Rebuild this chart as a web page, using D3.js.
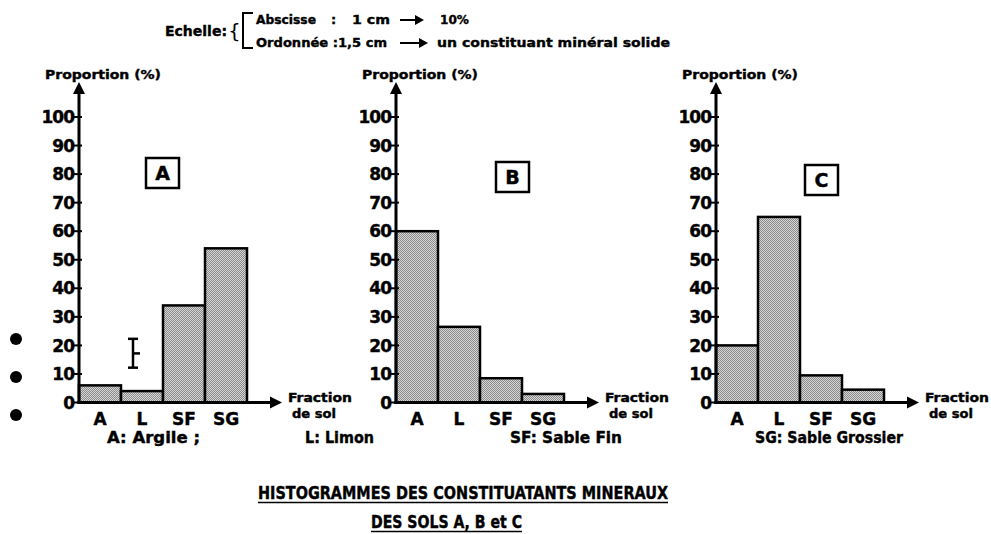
<!DOCTYPE html>
<html>
<head>
<meta charset="utf-8">
<title>Histogrammes des constituants minéraux</title>
<script src="https://cdn.jsdelivr.net/npm/d3@7"></script>
<style>
  body { margin: 0; background: #fff; }
  text { font-family: "DejaVu Sans", sans-serif; font-weight: bold; fill: #000; stroke: #000; stroke-width: 0.4; }
  .title { font-family: "Liberation Sans Narrow", "DejaVu Sans Condensed", sans-serif; }
</style>
</head>
<body>
<svg id="chart" width="991" height="534"></svg>
<script>
// data
var fractions = ["A", "L", "SF", "SG"];
var solA = [6, 4, 34, 54];
var solB = [60, 26.5, 8.5, 3];
var solC = [20, 65, 9.5, 4.5];
var yTicks = [0, 10, 20, 30, 40, 50, 60, 70, 80, 90, 100];
var legendLabels = ["A: Argile ;", "L: Limon", "SF: Sable Fin", "SG: Sable Grossier"];

// layout
var panels = [
  {name: "A", values: solA, x0: 79,  boxX: 67,  boxY: 158},
  {name: "B", values: solB, x0: 396, boxX: 100, boxY: 162},
  {name: "C", values: solC, x0: 716, boxX: 89,  boxY: 165}
];
var legendX = [107, 305, 510, 755];
var legendW = [93, 69, 112, 148];

var svg = d3.select("#chart");

// dithered grey fill
var pat = svg.append("defs").append("pattern")
    .attr("id", "dither")
    .attr("width", 2).attr("height", 2)
    .attr("patternUnits", "userSpaceOnUse");
pat.append("rect").attr("width", 2).attr("height", 2).attr("fill", "#d6d6d6");
pat.append("rect").attr("width", 1).attr("height", 1).attr("fill", "#8a8a8a");
pat.append("rect").attr("x", 1).attr("y", 1).attr("width", 1).attr("height", 1).attr("fill", "#8a8a8a");

var y = d3.scaleLinear().domain([0, 100]).range([402.5, 117]);
var x = d3.scaleBand().domain(fractions).range([0, 168]).padding(0);
var tip = 203;

panels.forEach(function(p) {
  var g = svg.append("g").attr("transform", "translate(" + p.x0 + ",0)");

  // bars
  g.selectAll("rect.bar")
      .data(p.values)
    .enter().append("rect")
      .attr("class", "bar")
      .attr("x", function(d, i) { return x(fractions[i]); })
      .attr("y", function(d) { return y(d); })
      .attr("width", x.bandwidth())
      .attr("height", function(d) { return y(0) - y(d); })
      .attr("fill", "url(#dither)")
      .attr("stroke", "#000")
      .attr("stroke-width", 2.5);

  // y axis
  g.append("line").attr("x1", 0).attr("x2", 0)
      .attr("y1", y(0) + 1.5).attr("y2", 92)
      .attr("stroke", "#000").attr("stroke-width", 3);
  g.append("path").attr("d", "M0,82 L-6,94 L6,94 Z").attr("fill", "#000");

  var ticks = g.selectAll("g.tick").data(yTicks).enter().append("g")
      .attr("class", "tick")
      .attr("transform", function(d) { return "translate(0," + y(d) + ")"; });
  ticks.append("line").attr("x1", -5).attr("x2", 3)
      .attr("stroke", "#000").attr("stroke-width", 2);
  ticks.append("text")
      .attr("x", -5).attr("dy", "0.36em")
      .attr("text-anchor", "end")
      .attr("font-size", 17)
      .attr("letter-spacing", -1)
      .text(function(d) { return d; });

  g.append("text").attr("x", -34).attr("y", 79)
      .attr("font-size", 12)
      .attr("textLength", 116)
      .attr("lengthAdjust", "spacingAndGlyphs")
      .text("Proportion (%)");

  // x axis
  g.append("line").attr("x1", -1.5).attr("x2", tip - 10)
      .attr("y1", y(0)).attr("y2", y(0))
      .attr("stroke", "#000").attr("stroke-width", 3);
  g.append("path").attr("d", "M" + tip + "," + y(0) + " L" + (tip - 12) + "," + (y(0) - 6) + " L" + (tip - 12) + "," + (y(0) + 6) + " Z")
      .attr("fill", "#000");

  g.selectAll("text.cat").data(fractions).enter().append("text")
      .attr("class", "cat")
      .attr("x", function(d) { return x(d) + x.bandwidth() / 2; })
      .attr("y", y(0) + 22)
      .attr("text-anchor", "middle")
      .attr("font-size", 17)
      .text(function(d) { return d; });

  g.append("text").attr("x", tip + 6).attr("y", 402)
      .attr("font-size", 12).attr("textLength", 64).attr("lengthAdjust", "spacingAndGlyphs")
      .text("Fraction");
  g.append("text").attr("x", tip + 10).attr("y", 418)
      .attr("font-size", 12).attr("textLength", 44).attr("lengthAdjust", "spacingAndGlyphs")
      .text("de sol");

  // boxed soil name
  g.append("rect").attr("x", p.boxX).attr("y", p.boxY)
      .attr("width", 33).attr("height", 30)
      .attr("fill", "#fff").attr("stroke", "#000").attr("stroke-width", 2.5);
  g.append("text").attr("x", p.boxX + 16.5).attr("y", p.boxY + 22)
      .attr("text-anchor", "middle").attr("font-size", 19)
      .text(p.name);
});

// small error bar mark in panel A
var eb = svg.append("g").attr("transform", "translate(" + (79 + x("L") + 12) + ",0)");
eb.append("line").attr("x1", 0).attr("x2", 0).attr("y1", y(22.3)).attr("y2", y(12.2))
    .attr("stroke", "#000").attr("stroke-width", 2.5);
eb.append("line").attr("x1", -5).attr("x2", 5).attr("y1", y(22.3)).attr("y2", y(22.3))
    .attr("stroke", "#000").attr("stroke-width", 2.5);
eb.append("line").attr("x1", -5).attr("x2", 5).attr("y1", y(12.2)).attr("y2", y(12.2))
    .attr("stroke", "#000").attr("stroke-width", 2.5);
eb.append("line").attr("x1", 0).attr("x2", 7).attr("y1", y(17.2)).attr("y2", y(17.2))
    .attr("stroke", "#000").attr("stroke-width", 2.5);

// bullets on the left
svg.selectAll("circle.bullet").data([339, 377, 415]).enter().append("circle")
    .attr("class", "bullet")
    .attr("cx", 16).attr("cy", function(d) { return d; })
    .attr("r", 6).attr("fill", "#000");

// scale header
var head = svg.append("g");
head.append("text").attr("x", 165).attr("y", 36).attr("font-size", 14)
    .attr("textLength", 62).attr("lengthAdjust", "spacingAndGlyphs").text("Echelle:");
head.append("text").attr("x", 228).attr("y", 38).attr("font-size", 20)
    .style("font-weight", "normal").style("stroke-width", 0).text("{");
head.append("path").attr("d", "M253,13 H243 V48 H253")
    .attr("fill", "none").attr("stroke", "#000").attr("stroke-width", 2);

function arrow(x1, x2, yy) {
  head.append("line").attr("x1", x1).attr("x2", x2 - 6).attr("y1", yy).attr("y2", yy)
      .attr("stroke", "#000").attr("stroke-width", 2);
  head.append("path").attr("d", "M" + x2 + "," + yy + " L" + (x2 - 9) + "," + (yy - 5) + " L" + (x2 - 9) + "," + (yy + 5) + " Z")
      .attr("fill", "#000");
}
head.append("text").attr("x", 256).attr("y", 24).attr("font-size", 13)
    .attr("textLength", 60).attr("lengthAdjust", "spacingAndGlyphs").text("Abscisse");
head.append("text").attr("x", 331).attr("y", 24).attr("font-size", 13).text(":");
head.append("text").attr("x", 352).attr("y", 24).attr("font-size", 13)
    .attr("textLength", 38).attr("lengthAdjust", "spacingAndGlyphs").text("1 cm");
arrow(400, 424, 20);
head.append("text").attr("x", 440).attr("y", 24).attr("font-size", 13)
    .attr("textLength", 29).attr("lengthAdjust", "spacingAndGlyphs").text("10%");

head.append("text").attr("x", 256).attr("y", 47).attr("font-size", 13)
    .attr("textLength", 131).attr("lengthAdjust", "spacingAndGlyphs").text("Ordonnée :1,5 cm");
arrow(400, 428, 43);
head.append("text").attr("x", 437).attr("y", 47).attr("font-size", 13)
    .attr("textLength", 233).attr("lengthAdjust", "spacingAndGlyphs").text("un constituant minéral solide");

// legend of fractions
svg.selectAll("text.legend").data(legendLabels).enter().append("text")
    .attr("class", "legend")
    .attr("x", function(d, i) { return legendX[i]; })
    .attr("y", 443)
    .attr("font-size", 15)
    .attr("textLength", function(d, i) { return legendW[i]; })
    .attr("lengthAdjust", "spacingAndGlyphs")
    .text(function(d) { return d; });

// title
svg.append("text").attr("class", "title")
    .attr("x", 258).attr("y", 499).attr("font-size", 18)
    .attr("textLength", 410).attr("lengthAdjust", "spacingAndGlyphs")
    .text("HISTOGRAMMES DES CONSTITUATANTS MINERAUX");
svg.append("line").attr("x1", 258).attr("x2", 668).attr("y1", 502.5).attr("y2", 502.5)
    .attr("stroke", "#000").attr("stroke-width", 1.5);
svg.append("text").attr("class", "title")
    .attr("x", 371).attr("y", 528).attr("font-size", 18)
    .attr("textLength", 151).attr("lengthAdjust", "spacingAndGlyphs")
    .text("DES SOLS A, B et C");
svg.append("line").attr("x1", 371).attr("x2", 522).attr("y1", 531.5).attr("y2", 531.5)
    .attr("stroke", "#000").attr("stroke-width", 1.5);
</script>
</body>
</html>
